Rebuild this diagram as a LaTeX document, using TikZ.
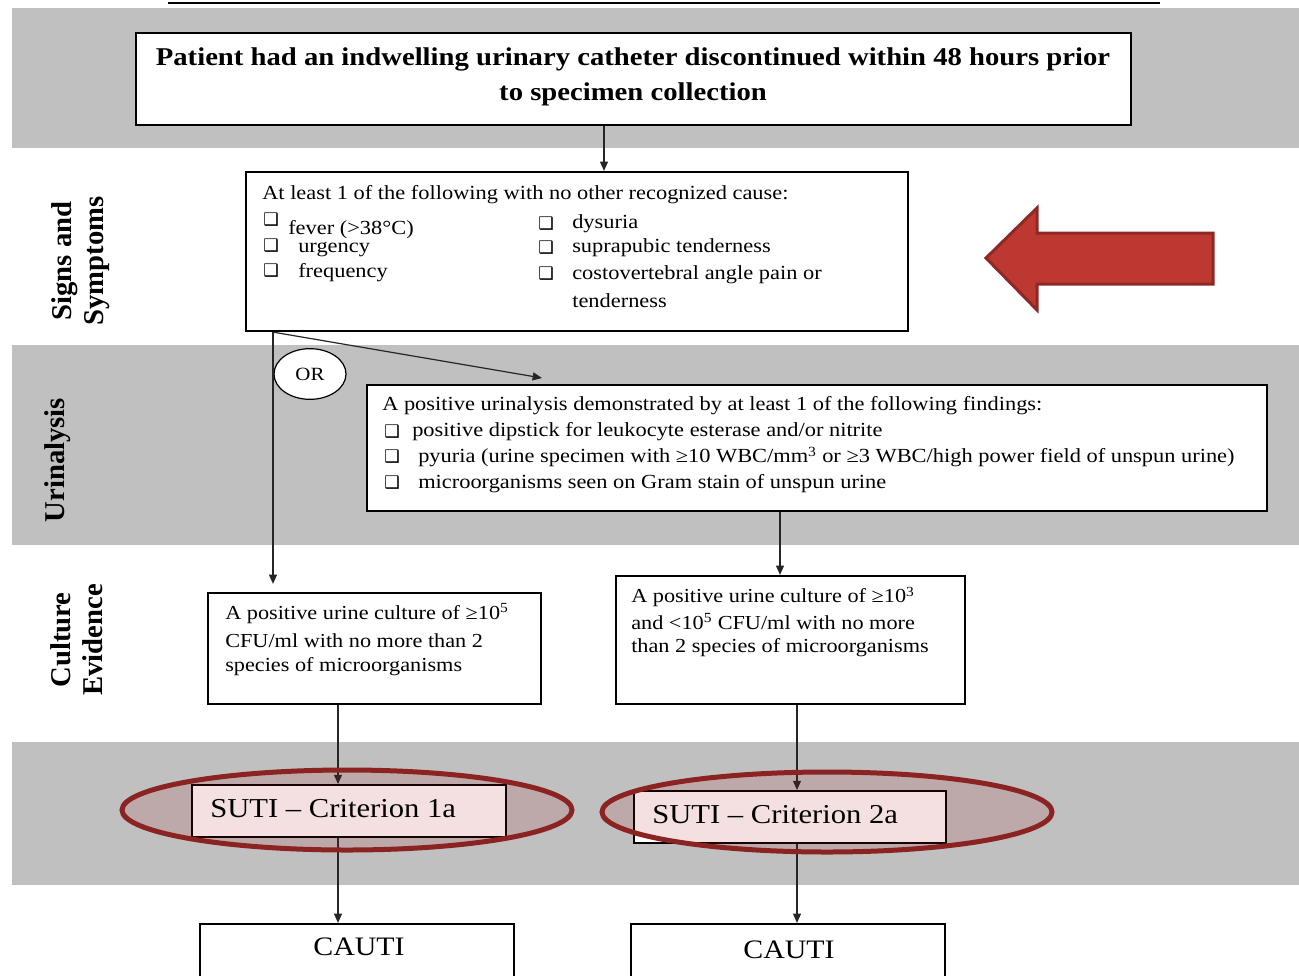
\documentclass[tikz,border=0pt]{standalone}
\usepackage{fontspec}
\setmainfont{Liberation Serif}
\newfontfamily\wide[FakeStretch=1.12]{Liberation Serif}
\newfontfamily\djv{DejaVu Sans}
\usetikzlibrary{arrows.meta,shapes.geometric,fit,calc}
\newdimen\px \px=0.75pt
\newcommand\cbox{{\djv\fontsize{13}{13}\selectfont ❑}}
\definecolor{band}{RGB}{192,192,192}
\definecolor{ovfill}{RGB}{176,20,20}
\definecolor{ovline}{RGB}{140,35,35}
\definecolor{redarrow}{RGB}{190,56,50}
\definecolor{redarrowline}{RGB}{142,40,38}
\begin{document}
\begin{tikzpicture}[x=0.75pt,y=-0.75pt,
  box/.style={draw=black, line width=2.2\px, fill=white, inner sep=0pt},
  txt/.style={anchor=west, inner sep=0pt, font=\wide\fontsize{15}{17}\selectfont},
  ctxt/.style={anchor=west, inner sep=0pt, font=\wide\fontsize{14.9}{17}\selectfont},
  side/.style={rotate=90, align=center, inner sep=0pt, font=\bfseries\fontsize{21.5}{24}\selectfont},
  conn/.style={draw=black!85, line width=1.2\px, -{Triangle[length=7pt,width=6pt]}},
  oval/.style={draw=ovline, line width=5\px, fill=ovfill, fill opacity=0.13}]
\useasboundingbox (0,0) rectangle (1299,975);
% bands
\fill[band] (12,8) rectangle (1299,148);
\fill[band] (12,345) rectangle (1299,545);
\fill[band] (12,742) rectangle (1299,885);
% top underline (cut-off title)
\draw[line width=2\px] (168,3) -- (1160,3);
% side labels
\node[side] (labSS) at (81,261) {Signs and\\Symptoms};
\node[side] (labUA) at (58,460) {Urinalysis};
\node[side] (labCE) at (77,640) {Culture\\Evidence};
% boxes
\node[box, line width=2.6\px, fit={(136,33) (1131,125)}] (topbox) {};
\node[align=center, inner sep=0pt, font=\wide\bfseries\fontsize{19.2}{26}\selectfont] (toptxt) at (633,77)
  {Patient had an indwelling urinary catheter discontinued within 48 hours prior\\to specimen collection};
\node[box, fit={(246,172) (908,331)}] (signs) {};
\node[box, fit={(367,385) (1267,511)}] (ua) {};
\node[box, fit={(208,593) (541,704)}] (cultL) {};
\node[box, fit={(616,576) (965,704)}] (cultR) {};
\node[box, line width=1.8\px, fit={(192,785) (506,837)}] (sutiA) {};
\node[box, line width=1.8\px, fit={(634,791) (946,843)}] (sutiB) {};
\node[box, fit={(200,924) (514,990)}] (cautiA) {};
\node[box, fit={(631,924) (945,990)}] (cautiB) {};
% signs text
\node[txt] (s0) at (262,195) {At least 1 of the following with no other recognized cause:};
\node[txt] (c1) at (263,220) {\cbox};
\node[txt] (s1) at (288,230) {fever (>38°C)};
\node[txt] (c2) at (263,246) {\cbox};
\node[txt] (s2) at (298,250) {urgency};
\node[txt] (c3) at (263,271) {\cbox};
\node[txt] (s3) at (298,273) {frequency};
\node[txt] (c4) at (538,224) {\cbox};
\node[txt] (s4) at (572,224) {dysuria};
\node[txt] (c5) at (538,248) {\cbox};
\node[txt] (s5) at (572,248) {suprapubic tenderness};
\node[txt] (c6) at (538,274) {\cbox};
\node[txt] (s6) at (572,275) {costovertebral angle pain or};
\node[txt] (s7) at (572,301) {tenderness};
% urinalysis text
\node[txt] (u0) at (382,406) {A positive urinalysis demonstrated by at least 1 of the following findings:};
\node[txt] (c7) at (384,432) {\cbox};
\node[txt] (u1) at (412,432) {positive dipstick for leukocyte esterase and/or nitrite};
\node[txt] (c8) at (384,457) {\cbox};
\node[txt] (u2) at (418,457) {pyuria (urine specimen with ≥10 WBC/mm\textsuperscript{3} or ≥3 WBC/high power field of unspun urine)};
\node[txt] (c9) at (384,483) {\cbox};
\node[txt] (u3) at (418,484) {microorganisms seen on Gram stain of unspun urine};
% culture text
\node[ctxt] (l1) at (225,614) {A positive urine culture of ≥10\textsuperscript{5}};
\node[ctxt] (l2) at (225,641) {CFU/ml with no more than 2};
\node[ctxt] (l3) at (225,667) {species of microorganisms};
\node[ctxt] (r1) at (631,597) {A positive urine culture of ≥10\textsuperscript{3}};
\node[ctxt] (r2) at (631,622) {and <10\textsuperscript{5} CFU/ml with no more};
\node[ctxt] (r3) at (631,648) {than 2 species of microorganisms};
% OR
\node[draw, ellipse, fill=white, line width=1.2\px, minimum width=54pt, minimum height=38pt, inner sep=0pt,
  font=\wide\fontsize{14}{15}\selectfont] (or) at (310,374) {OR};
% connectors
\coordinate (xa) at (604,0);
\coordinate (xb) at (273,0);
\coordinate (xc) at (780,0);
\coordinate (xd) at (338,0);
\coordinate (xe) at (797,0);
\coordinate (diagEnd) at (542,378);
\draw[conn] (topbox.south -| xa) -- (signs.north -| xa);
\draw[conn] (signs.south -| xb) -- ($(cultL.north -| xb)+(0,-8)$);
\draw[conn] (signs.south -| xb) -- (diagEnd);
\draw[conn] (ua.south -| xc) -- (cultR.north -| xc);
\draw[conn] (cultL.south -| xd) -- (sutiA.north -| xd);
\draw[conn] (sutiA.south -| xd) -- (cautiA.north -| xd);
\draw[conn] (cultR.south -| xe) -- (sutiB.north -| xe);
\draw[conn] (sutiB.south -| xe) -- (cautiB.north -| xe);
% highlight ovals
\draw[oval] (347,810) ellipse [x radius=225, y radius=40];
\draw[oval] (827,812) ellipse [x radius=225, y radius=40];
% suti / cauti text
\node[anchor=west, inner sep=0pt, font=\wide\fontsize{20.5}{22}\selectfont] (tA) at (210,809) {SUTI – Criterion 1a};
\node[anchor=west, inner sep=0pt, font=\wide\fontsize{20.5}{22}\selectfont] (tB) at (652,815) {SUTI – Criterion 2a};
\node[inner sep=0pt, font=\wide\fontsize{20}{24}\selectfont] (cA) at (359,947) {CAUTI};
\node[inner sep=0pt, font=\wide\fontsize{20}{24}\selectfont] (cB) at (789,950) {CAUTI};
% red arrow
\draw[fill=redarrow, draw=redarrowline, line width=3\px, line join=miter]
  (986,258) -- (1037,208) -- (1037,233) -- (1213,233) -- (1213,284) -- (1037,284) -- (1037,310) -- cycle;
\end{tikzpicture}
\end{document}
